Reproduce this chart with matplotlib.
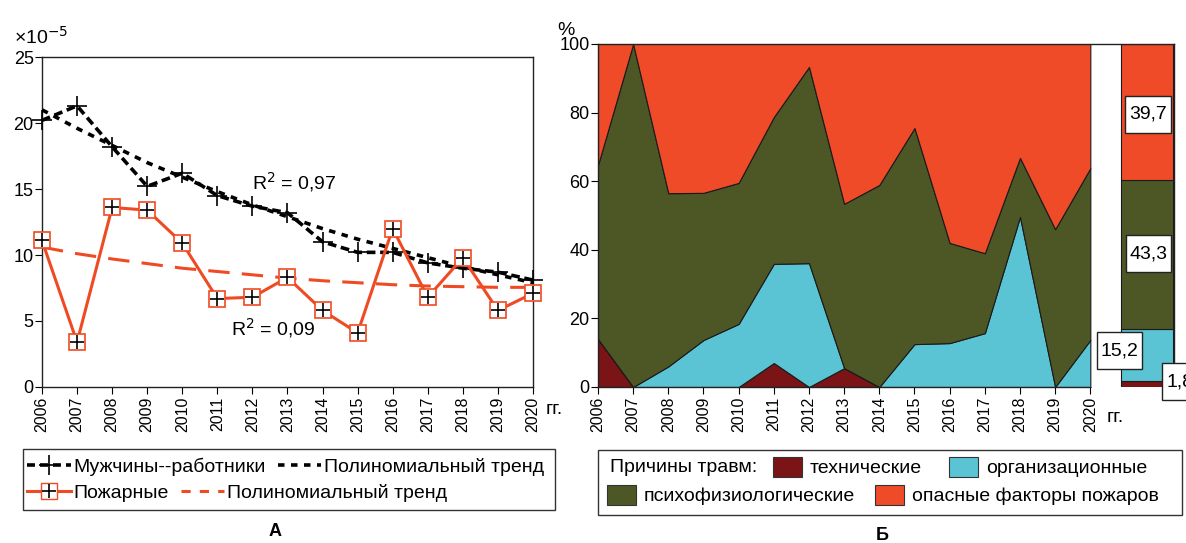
import numpy as np
import matplotlib.pyplot as plt
from matplotlib.lines import Line2D
from matplotlib.patches import Patch, Rectangle

plt.rcParams['font.family'] = ['Liberation Sans', 'DejaVu Sans']

years = list(range(2006, 2021))
year_labels = [str(y) for y in years]

# panel A, values in units of 1e-5
men_workers = [20.2, 21.3, 18.2, 15.2, 16.2, 14.5, 13.7, 13.2, 11.0, 10.2, 10.2, 9.4, 9.0, 8.7, 8.1]
men_trend = [21.0, 19.6, 18.3, 17.0, 15.9, 14.8, 13.8, 12.9, 12.0, 11.2, 10.5, 9.8, 9.1, 8.5, 7.9]
firemen = [11.1, 3.4, 13.6, 13.4, 10.9, 6.7, 6.8, 8.3, 5.8, 4.1, 12.0, 6.8, 9.8, 5.8, 7.1]
firemen_trend = [10.6, 10.1, 9.7, 9.35, 9.0, 8.75, 8.5, 8.25, 8.05, 7.9, 7.75, 7.65, 7.6, 7.55, 7.55]

# panel B, shares of injury causes, %
technical = [14.0, 0, 0, 0, 0, 7.0, 0, 5.5, 0, 0, 0, 0, 0, 0, 0]
organizational = [0, 0, 6.0, 13.7, 18.4, 28.9, 36.1, 0, 0, 12.5, 12.8, 15.7, 49.6, 0, 13.7]
psycho = [50.7, 100, 50.5, 42.9, 41.1, 42.8, 57.2, 47.9, 58.9, 63.0, 29.2, 23.3, 17.2, 46.0, 50.1]
fire_hazards = [35.3, 0, 43.5, 43.4, 40.5, 21.3, 6.7, 46.6, 41.1, 24.5, 58.0, 61.0, 33.2, 54.0, 36.2]
summary = [1.8, 15.2, 43.3, 39.7]
summary_labels = ['1,8', '15,2', '43,3', '39,7']

cause_names = ['технические', 'организационные', 'психофизиологические', 'опасные факторы пожаров']
cause_colors = ['#7b1416', '#5ac4d4', '#4d5725', '#ef4b29']
orange = '#f04a23'
FS = 14

fig = plt.figure(figsize=(11.86, 5.43), dpi=100)

# ---------- panel A ----------
ax1 = fig.add_axes([0.0354, 0.2873, 0.4140, 0.6077])
ax1.plot(years, men_trend, color='black', lw=2.6, ls=(0, (1.8, 1.8)), zorder=3)
ax1.plot(years, men_workers, color='black', lw=2.6, ls=(0, (2.4, 1.3)), zorder=3)
ax1.plot(years, men_workers, ls='none', marker='+', ms=14, mew=1.2, color='black', zorder=4, clip_on=False)
ax1.plot(years, firemen_trend, color=orange, lw=2.2, ls=(0, (7, 4)), zorder=2)
ax1.plot(years, firemen, color=orange, lw=2.2, marker='s', ms=11.5, mfc='white', mec=orange, mew=1.2,
         zorder=5, clip_on=False)
ax1.plot(years, firemen, ls='none', marker='+', ms=10, mew=1.2, color='black', zorder=6, clip_on=False)

ax1.set_xlim(2006, 2020)
ax1.set_ylim(0, 25)
ax1.set_yticks([0, 5, 10, 15, 20, 25])
ax1.set_xticks(years)
ax1.set_xticklabels(year_labels, rotation=90, fontsize=11.5)
ax1.tick_params(axis='y', labelsize=13, length=5, pad=1)
ax1.tick_params(axis='x', length=5, pad=2)
for s in ax1.spines.values():
    s.set_linewidth(1.0)
    s.set_color('#222222')
ax1.text(2005.2, 26.0, '×10$^{-5}$', fontsize=FS, ha='left', va='baseline')
ax1.text(2012.0, 15.5, 'R$^2$ = 0,97', fontsize=FS, ha='left', va='center')
ax1.text(2011.4, 4.5, 'R$^2$ = 0,09', fontsize=FS, ha='left', va='center')
ax1.text(2020.35, -1.7, 'гг.', fontsize=FS, ha='left', va='center')

# ---------- panel B ----------
ax2 = fig.add_axes([0.5042, 0.2873, 0.4857, 0.6317])
ax2.stackplot(years, technical, organizational, psycho, fire_hazards, colors=cause_colors,
              edgecolor='#1a1a1a', linewidth=0.8, zorder=2)
bar_x = 2021.62
bottom = 0
for val, col in zip(summary, cause_colors):
    ax2.bar(bar_x, val, width=1.48, bottom=bottom, color=col, edgecolor='#1a1a1a', linewidth=0.8, zorder=2)
    bottom += val

# value labels in white boxes (box centre, text x)
box_w, box_h = 1.28, 10.8
label_boxes = [(2022.69, 1.6, 2022.17, 'left'), (2020.83, 10.6, 2020.83, 'center'),
               (2021.65, 38.8, 2021.65, 'center'), (2021.64, 79.5, 2021.64, 'center')]
for (bx, by, tx, ha), txt in zip(label_boxes, summary_labels):
    ax2.add_patch(Rectangle((bx - box_w / 2, by - box_h / 2), box_w, box_h, fc='white', ec='#222222',
                            lw=1.0, zorder=5, clip_on=False))
    ax2.text(tx, by, txt, fontsize=FS, ha=ha, va='center', zorder=6, clip_on=False)

ax2.set_xlim(2006, 2022.38)
ax2.set_ylim(0, 100)
ax2.set_yticks([0, 20, 40, 60, 80, 100])
ax2.set_xticks(years)
ax2.set_xticklabels(year_labels, rotation=90, fontsize=11.5)
ax2.tick_params(axis='y', labelsize=13, length=5, pad=1)
ax2.tick_params(axis='x', length=5, pad=2)
ax2.spines['bottom'].set_bounds(2006, 2020)
for s in ax2.spines.values():
    s.set_linewidth(1.0)
    s.set_color('#222222')
ax2.text(2005.1, 101.5, '%', fontsize=FS, ha='center', va='bottom')
ax2.text(2020.45, -9.0, 'гг.', fontsize=FS, ha='left', va='center')

# ---------- legends ----------
fig.add_artist(Rectangle((23 / 1186, 1 - 510 / 543), 532 / 1186, 61 / 543, transform=fig.transFigure,
                         fill=False, ec='#333333', lw=1.0))
men_h = Line2D([], [], color='black', lw=2.6, ls=(0, (2.2, 1.4)), marker='+', ms=14, mew=1.2)
men_tr_h = Line2D([], [], color='black', lw=2.6, ls=(0, (1.8, 1.8)))
fire_h = (Line2D([], [], color=orange, lw=2.2, marker='s', ms=11.5, mfc='white', mec=orange),
          Line2D([], [], ls='none', marker='+', ms=10, mew=1.2, color='black'))
fire_tr_h = Line2D([], [], color=orange, lw=2.2, ls=(0, (3, 3)))
leg_kw = dict(frameon=False, fontsize=FS, borderpad=0, borderaxespad=0, handlelength=2.25,
              handletextpad=0.15, columnspacing=0.6, ncol=2, loc='center left')
fig.legend([men_h, men_tr_h], ['Мужчины--работники', 'Полиномиальный тренд'],
           bbox_to_anchor=(27 / 1186, 1 - 467 / 543), **leg_kw)
fig.legend([fire_h, fire_tr_h], ['Пожарные', 'Полиномиальный тренд'],
           bbox_to_anchor=(27 / 1186, 1 - 493 / 543), **leg_kw)

fig.add_artist(Rectangle((598 / 1186, 1 - 515 / 543), 584 / 1186, 65 / 543, transform=fig.transFigure,
                         fill=False, ec='#333333', lw=1.0))
patches = [Patch(fc=c, ec='#333333', lw=0.8) for c in cause_colors]
box_kw = dict(frameon=False, fontsize=FS, borderpad=0, borderaxespad=0, handlelength=1.5,
              handleheight=1.25, handletextpad=0.4, ncol=2, loc='center left')
fig.text(610 / 1186, 1 - 467 / 543, 'Причины травм:', fontsize=FS, ha='left', va='center')
fig.legend(patches[:2], cause_names[:2], bbox_to_anchor=(773 / 1186, 1 - 467 / 543),
           columnspacing=1.4, **box_kw)
fig.legend(patches[2:], cause_names[2:], bbox_to_anchor=(607 / 1186, 1 - 495 / 543),
           columnspacing=1.0, **box_kw)

fig.text(275 / 1186, 1 - 532 / 543, 'А', fontsize=13, fontweight='bold', ha='center', va='center')
fig.text(882 / 1186, 1 - 536 / 543, 'Б', fontsize=13, fontweight='bold', ha='center', va='center')

fig.savefig('out.png', dpi=100)
